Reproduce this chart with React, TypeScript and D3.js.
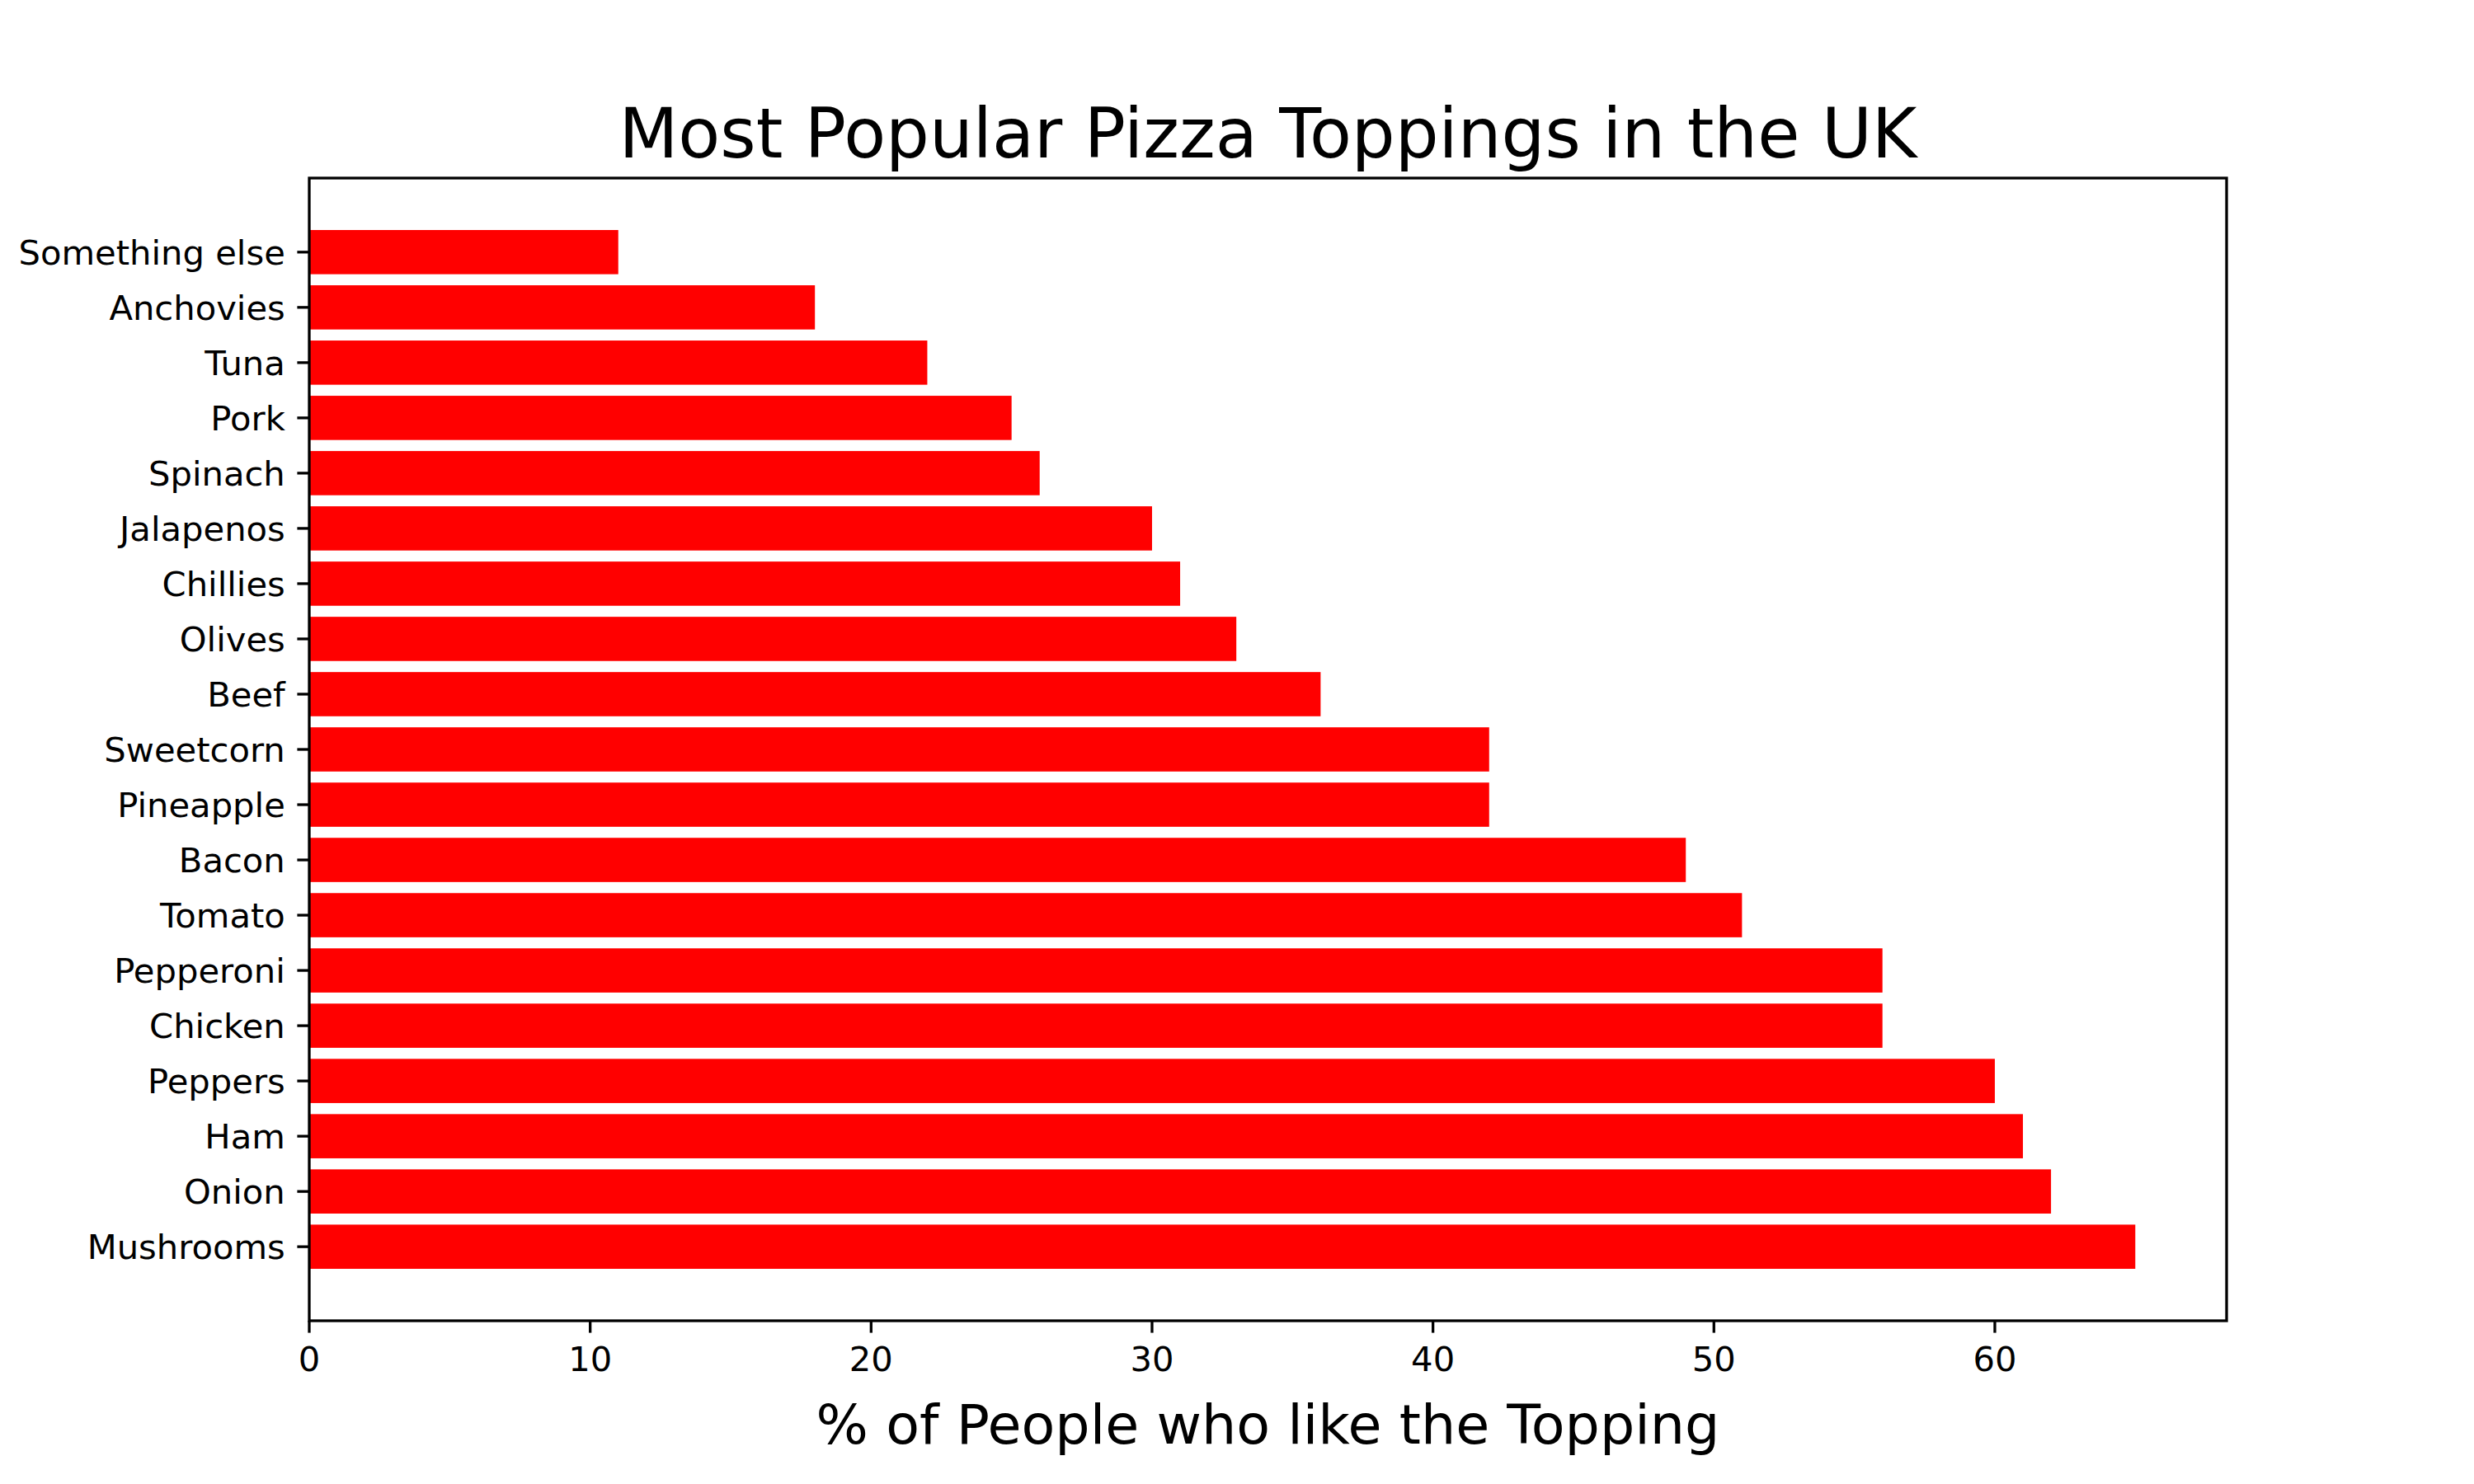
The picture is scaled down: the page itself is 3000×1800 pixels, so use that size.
import * as d3 from 'd3';
import { useEffect, useRef } from 'react';

const toppings = [
  'Mushrooms', 'Onion', 'Ham', 'Peppers', 'Chicken', 'Pepperoni', 'Tomato', 'Bacon',
  'Pineapple', 'Sweetcorn', 'Beef', 'Olives', 'Chillies', 'Jalapenos', 'Spinach', 'Pork',
  'Tuna', 'Anchovies', 'Something else',
];
const percents = [65, 62, 61, 60, 56, 56, 51, 49, 42, 42, 36, 33, 31, 30, 26, 25, 22, 18, 11];
const xTicks = [0, 10, 20, 30, 40, 50, 60];

export default function App() {
  const ref = useRef<HTMLDivElement>(null);
  const width = 3000;
  const height = 1800;
  const left = 375;
  const right = 2700;
  const top = 216;
  const bottom = 1602;
  const font = 'DejaVu Sans, sans-serif';

  useEffect(() => {
    if (!ref.current) return;
    const n = toppings.length;
    const x = d3.scaleLinear().domain([0, 65 * 1.05]).range([left, right]);
    // matplotlib-style y: index units, bar height 0.8, 5% margins
    const lo = -0.4, hi = n - 1 + 0.4, pad = (hi - lo) * 0.05;
    const y = d3.scaleLinear().domain([lo - pad, hi + pad]).range([bottom, top]);

    const svg = d3.create('svg').attr('width', width).attr('height', height)
      .style('position', 'absolute').style('left', '0').style('top', '0')
      .style('background', '#fff');

    svg.append('g').selectAll('rect').data(percents).join('rect')
      .attr('x', x(0))
      .attr('y', (_, i) => y(i + 0.4))
      .attr('width', (d) => x(d) - x(0))
      .attr('height', (_, i) => y(i - 0.4) - y(i + 0.4))
      .attr('fill', '#ff0000');

    // x ticks
    const xg = svg.append('g');
    xTicks.forEach((t) => {
      xg.append('line').attr('x1', x(t)).attr('x2', x(t)).attr('y1', bottom).attr('y2', bottom + 14.6)
        .attr('stroke', '#000').attr('stroke-width', 3.3);
      xg.append('text').attr('x', x(t)).attr('y', bottom + 14.6 + 14.6 + 32)
        .attr('text-anchor', 'middle').attr('font-family', font).attr('font-size', 41.7).text(t);
    });

    // y ticks
    const yg = svg.append('g');
    toppings.forEach((name, i) => {
      yg.append('line').attr('x1', left - 14.6).attr('x2', left).attr('y1', y(i)).attr('y2', y(i))
        .attr('stroke', '#000').attr('stroke-width', 3.3);
      yg.append('text').attr('x', left - 29.2).attr('y', y(i)).attr('dy', '0.36em')
        .attr('text-anchor', 'end').attr('font-family', font).attr('font-size', 41.7).text(name);
    });

    svg.append('rect').attr('x', left).attr('y', top).attr('width', right - left).attr('height', bottom - top)
      .attr('fill', 'none').attr('stroke', '#000').attr('stroke-width', 3.3);

    svg.append('text').attr('x', (left + right) / 2).attr('y', top - 25)
      .attr('text-anchor', 'middle').attr('font-family', font).attr('font-size', 83.3)
      .text('Most Popular Pizza Toppings in the UK');

    svg.append('text').attr('x', (left + right) / 2).attr('y', bottom + 14.6 + 14.6 + 48 + 16 + 56)
      .attr('text-anchor', 'middle').attr('font-family', font).attr('font-size', 66.7)
      .text('% of People who like the Topping');

    ref.current.innerHTML = '';
    ref.current.appendChild(svg.node()!);
  }, [ref]);

  return <div ref={ref} />;
}
